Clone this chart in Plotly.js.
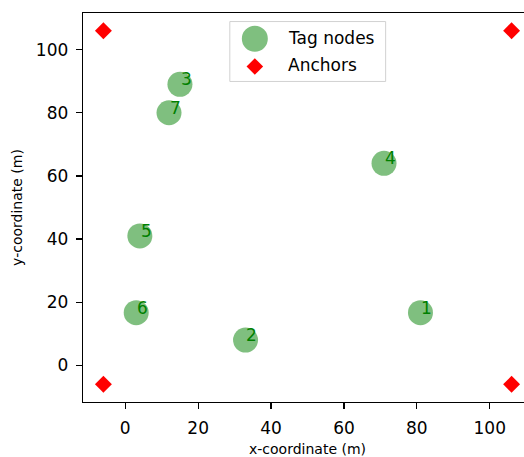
<!DOCTYPE html>
<html>
<head>
<meta charset="utf-8">
<script src="https://cdn.plot.ly/plotly-3.0.1.min.js"></script>
<style>
  html, body { margin: 0; padding: 0; overflow: hidden; background: #fff; }
  #chart { width: 540px; height: 457px; }
</style>
</head>
<body>
<div id="chart"></div>
<script>
// Tag node positions (metres) and their ID labels
const tagX = [81, 33, 15, 71, 4, 3, 12];
const tagY = [16.7, 8, 89, 64, 41, 16.7, 80];
const tagLabels = ['1', '2', '3', '4', '5', '6', '7'];

// Anchor positions at the corners of the area
const anchorX = [-6, -6, 106, 106];
const anchorY = [-6, 106, -6, 106];

// Legend entries
const legendNames = ['Tag nodes', 'Anchors'];

const FONT = 'DejaVu Sans, Liberation Sans, sans-serif';
const GREEN_FILL = 'rgba(0,128,0,0.5)';
const GREEN_TEXT = '#008000';

const traces = [
  {
    type: 'scatter', mode: 'markers', name: legendNames[0],
    x: tagX, y: tagY,
    marker: { symbol: 'circle', size: 25, color: GREEN_FILL, line: { width: 0 } },
    showlegend: false, hoverinfo: 'skip'
  },
  {
    type: 'scatter', mode: 'markers', name: legendNames[1],
    x: anchorX, y: anchorY,
    marker: { symbol: 'diamond', size: 13, color: 'red', line: { width: 0 } },
    showlegend: false, hoverinfo: 'skip'
  }
];

// ID labels next to each tag node
const annotations = tagLabels.map((t, i) => ({
  x: tagX[i] + 0.5, y: tagY[i] + 0.5, xref: 'x', yref: 'y',
  text: t, showarrow: false, xanchor: 'left', yanchor: 'bottom',
  xshift: -3, yshift: -8.5,
  font: { family: FONT, size: 17, color: GREEN_TEXT }
}));

// Legend box, drawn in paper coordinates
const legX0 = 0.327, legX1 = 0.674, legY0 = 0.824, legY1 = 0.978;
const legSymX = 0.3827;
const legRowY = [0.9339, 0.8626];
const legTextX = 0.4569;

legendNames.forEach((name, i) => {
  annotations.push({
    x: legTextX, y: legRowY[i], xref: 'paper', yref: 'paper',
    text: name, showarrow: false, xanchor: 'left', yanchor: 'middle',
    xshift: -2, yshift: 1,
    font: { family: FONT, size: 17, color: '#000' }
  });
});

const shapes = [
  {
    type: 'rect', xref: 'paper', yref: 'paper',
    x0: legX0, x1: legX1, y0: legY0, y1: legY1,
    line: { color: 'rgba(204,204,204,0.9)', width: 1 },
    fillcolor: 'rgba(255,255,255,0.8)', layer: 'above'
  },
  {
    type: 'circle', xref: 'paper', yref: 'paper',
    xsizemode: 'pixel', ysizemode: 'pixel',
    xanchor: legSymX, yanchor: legRowY[0],
    x0: -13, x1: 13, y0: -13, y1: 13,
    fillcolor: GREEN_FILL, line: { width: 0 }, layer: 'above'
  },
  {
    type: 'path', xref: 'paper', yref: 'paper',
    xsizemode: 'pixel', ysizemode: 'pixel',
    xanchor: legSymX, yanchor: legRowY[1],
    path: 'M 0 8.3 L 8.3 0 L 0 -8.3 L -8.3 0 Z',
    fillcolor: 'red', line: { width: 0 }, layer: 'above'
  }
];

const axisCommon = {
  range: [-11.6, 111.6],
  showgrid: false, zeroline: false,
  showline: true, linecolor: '#000', linewidth: 1.3, mirror: true,
  ticks: 'outside', ticklen: 6, tickwidth: 1.3, tickcolor: '#000',
  tickmode: 'array', tickvals: [0, 20, 40, 60, 80, 100],
  tickfont: { family: FONT, size: 17, color: '#000' },
  automargin: false, fixedrange: true
};

const layout = {
  width: 540, height: 457,
  margin: { l: 83, r: 8, t: 13, b: 55 },
  paper_bgcolor: '#fff', plot_bgcolor: '#fff',
  showlegend: false,
  font: { family: FONT, color: '#000' },
  xaxis: Object.assign({}, axisCommon, {
    ticklabelstandoff: 4,
    title: { text: 'x-coordinate (m)', font: { family: FONT, size: 14, color: '#000' }, standoff: 8 }
  }),
  yaxis: Object.assign({}, axisCommon, {
    ticklabelstandoff: 4,
    title: { text: 'y-coordinate (m)', font: { family: FONT, size: 14, color: '#000' }, standoff: 10 }
  }),
  annotations: annotations,
  shapes: shapes
};

Plotly.newPlot('chart', traces, layout, { staticPlot: true, displayModeBar: false });
</script>
</body>
</html>
